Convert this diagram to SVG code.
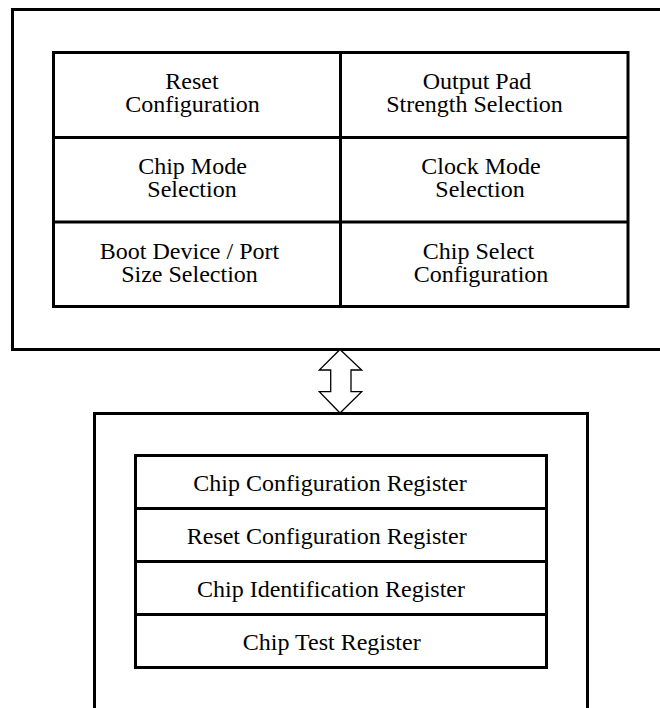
<svg xmlns="http://www.w3.org/2000/svg" width="660" height="708" viewBox="0 0 660 708">
<style>
.box{fill:none;stroke:#000;stroke-width:3}
.ln{stroke:#000;stroke-width:3;fill:none}
.t{font-family:"Liberation Serif","Times New Roman",serif;font-size:24px;fill:#000;text-anchor:middle}
.arrow{fill:#fff;stroke:#000;stroke-width:1.3;stroke-linejoin:miter}
</style>
<rect width="660" height="708" fill="#fff"/>
<g id="config-block">
<path class="ln" d="M670,9.5 H12.5 V349.5 H670"/>
<rect class="box" x="53.5" y="52.5" width="574.5" height="254"/>
<line class="ln" x1="340.5" y1="51" x2="340.5" y2="308"/>
<line class="ln" x1="53.5" y1="137.5" x2="628" y2="137.5"/>
<line class="ln" x1="53.5" y1="222" x2="628" y2="222"/>
</g>
<g id="reset-config">
<text class="t" x="192" y="89.3">Reset</text>
<text class="t" x="192.5" y="111.7">Configuration</text>
</g>
<g id="output-pad">
<text class="t" x="477" y="89.3">Output Pad</text>
<text class="t" x="474.5" y="111.5">Strength Selection</text>
</g>
<g id="chip-mode">
<text class="t" x="192.5" y="174">Chip Mode</text>
<text class="t" x="192" y="196.7">Selection</text>
</g>
<g id="clock-mode">
<text class="t" x="481" y="174">Clock Mode</text>
<text class="t" x="480" y="196.7">Selection</text>
</g>
<g id="boot-device">
<text class="t" x="189.5" y="259">Boot Device / Port</text>
<text class="t" x="189.5" y="281.7">Size Selection</text>
</g>
<g id="chip-select">
<text class="t" x="478.5" y="259">Chip Select</text>
<text class="t" x="481" y="281.7">Configuration</text>
</g>
<g id="connectors">
<polygon class="arrow" points="340,349.5 361.7,370 351,370 351,391.7 361.7,391.7 340,413 319.3,391.7 330.7,391.7 330.7,370 319.3,370"/>
</g>
<g id="register-block">
<path class="ln" d="M94.5,720 V413.5 H587.5 V720"/>
<rect class="box" x="135.5" y="455.5" width="411" height="212"/>
<line class="ln" x1="135.5" y1="508.5" x2="546.5" y2="508.5"/>
<line class="ln" x1="135.5" y1="561.5" x2="546.5" y2="561.5"/>
<line class="ln" x1="135.5" y1="614.5" x2="546.5" y2="614.5"/>
</g>
<g id="chip-config-reg"><text class="t" x="330" y="490.7">Chip Configuration Register</text></g>
<g id="reset-config-reg"><text class="t" x="326.7" y="544">Reset Configuration Register</text></g>
<g id="chip-id-reg"><text class="t" x="331" y="597.3">Chip Identification Register</text></g>
<g id="chip-test-reg"><text class="t" x="331.7" y="650">Chip Test Register</text></g>
</svg>
